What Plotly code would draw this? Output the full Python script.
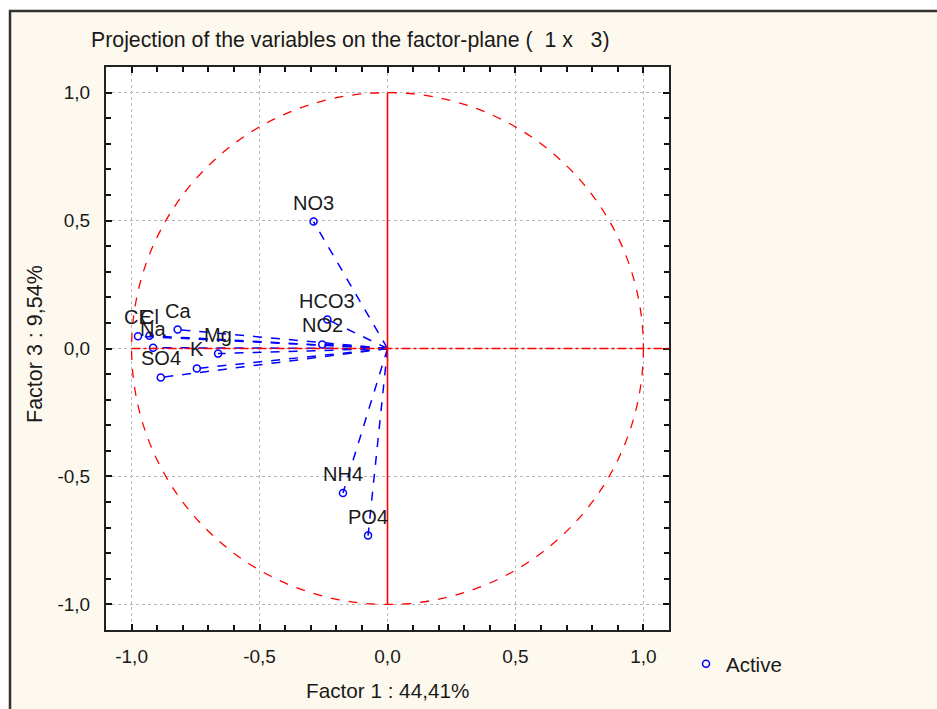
import plotly.graph_objects as go

# Data
variables = ["CE", "Cl", "Ca", "Na", "Mg", "K", "SO4", "HCO3", "NO2", "NO3", "NH4", "PO4"]
factor1 = [-0.975, -0.93, -0.82, -0.916, -0.662, -0.745, -0.886, -0.235, -0.255, -0.289, -0.174, -0.076]
factor3 = [0.048, 0.05, 0.074, 0.003, -0.02, -0.078, -0.113, 0.113, 0.016, 0.496, -0.565, -0.731]
tick_vals = [-1.0, -0.5, 0.0, 0.5, 1.0]
tick_text = ["-1,0", "-0,5", "0,0", "0,5", "1,0"]

W, H = 937, 709
L, R, T, B = 106, 669, 67, 630
pw, ph = R - L, B - T


def px(x):
    return (x - L) / pw


def py(y):
    return (B - y) / ph


FONT = "Liberation Sans, Arial, sans-serif"
BLUE = "#0000ff"
RED = "#ff0000"
TXT = "#1a1a1a"

# dashed lines from the origin to each variable
lx, ly = [], []
for a, b in zip(factor1, factor3):
    lx += [0, a, None]
    ly += [0, b, None]

fig = go.Figure()
fig.add_trace(go.Scatter(x=lx, y=ly, mode="lines", line=dict(color=BLUE, width=1.5, dash="dash"),
                         showlegend=False, hoverinfo="skip"))
fig.add_trace(go.Scatter(x=factor1, y=factor3, mode="markers", name="Active",
                         marker=dict(symbol="circle-open", size=7, color=BLUE, line=dict(width=1.5))))

shapes = [
    dict(type="circle", xref="x", yref="y", x0=-1, y0=-1, x1=1, y1=1,
         line=dict(color=RED, width=1.3, dash="dash"), layer="above"),
    dict(type="line", xref="x", yref="y", x0=0, x1=0, y0=-1, y1=1, line=dict(color=RED, width=1.6)),
    dict(type="line", xref="x", yref="y", x0=-1, x1=1.1, y0=0, y1=0, line=dict(color=RED, width=1.3, dash="dashdot")),
    # outer white margin and frame
    dict(type="rect", xref="paper", yref="paper", x0=px(-5), x1=px(W + 5), y0=py(10), y1=py(-5),
         fillcolor="white", line=dict(width=0), layer="below"),
    dict(type="rect", xref="paper", yref="paper", x0=px(-5), x1=px(9), y0=py(H + 5), y1=py(-5),
         fillcolor="white", line=dict(width=0), layer="below"),
    dict(type="line", xref="paper", yref="paper", x0=px(9), x1=px(W + 5), y0=py(11), y1=py(11),
         line=dict(color="#333", width=2.5)),
    dict(type="line", xref="paper", yref="paper", x0=px(10), x1=px(10), y0=py(10), y1=py(H + 5),
         line=dict(color="#333", width=2.5)),
]

axis_common = dict(
    range=[-1.1, 1.1], tickmode="array", tickvals=tick_vals, ticktext=tick_text,
    ticks="inside", ticklen=6, tickwidth=2, tickcolor="#111",
    minor=dict(tickmode="linear", dtick=0.1, tick0=0, ticks="inside", ticklen=5, tickwidth=1.5,
               tickcolor="#111", showgrid=False),
    showgrid=True, gridcolor="#b8b8b8", griddash="dot", gridwidth=1,
    showline=True, linecolor="#222", linewidth=2, mirror="ticks",
    zeroline=False, tickfont=dict(family=FONT, size=19, color=TXT),
    fixedrange=True,
)

annotations = [
    dict(text="Projection of the variables on the factor-plane (  1 x   3)", xref="paper", yref="paper",
         x=px(89), y=py(40), xanchor="left", yanchor="middle", showarrow=False,
         font=dict(family=FONT, size=21.3, color=TXT)),
    dict(text="Factor 1 : 44,41%", xref="paper", yref="paper", x=px(387), y=py(690),
         xanchor="center", yanchor="middle", showarrow=False, font=dict(family=FONT, size=20.7, color=TXT)),
    dict(text="Factor 3 : 9,54%", xref="paper", yref="paper", x=px(35), y=py(344), textangle=-90,
         xanchor="center", yanchor="middle", showarrow=False, font=dict(family=FONT, size=21.5, color=TXT)),
]
for name, a, b in zip(variables, factor1, factor3):
    annotations.append(dict(text=name, x=a, y=b, xref="x", yref="y", showarrow=False,
                            xanchor="center", yanchor="middle", yshift=19,
                            font=dict(family=FONT, size=20, color=TXT)))

fig.update_layout(
    width=W, height=H,
    margin=dict(l=L, r=W - R, t=T, b=H - B, pad=0),
    paper_bgcolor="#fef9ee", plot_bgcolor="white",
    xaxis=dict(**axis_common, ticklabelstandoff=8),
    yaxis=dict(**axis_common, ticklabelstandoff=10),
    shapes=shapes,
    showlegend=True,
    legend=dict(x=px(686), y=py(664), xanchor="left", yanchor="middle", bgcolor="rgba(0,0,0,0)",
                font=dict(family=FONT, size=20.5, color=TXT)),
    annotations=annotations,
)

fig.write_html("out.html")
